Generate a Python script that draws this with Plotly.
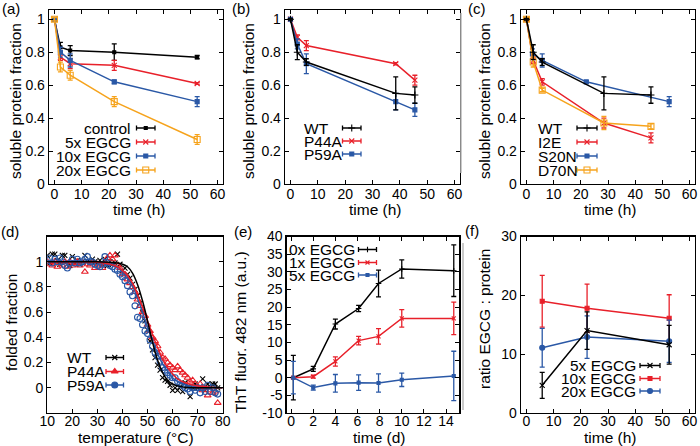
import plotly.graph_objects as go

FONT = "Liberation Sans, Arial, Helvetica, sans-serif"
BLACK = "#000000"
RED = "#e8202a"
BLUE = "#2a58a6"
ORANGE = "#f6a31c"
W, H = 700, 446

# ---------------- data ----------------
# (a) soluble fraction with EGCG
a_time = [0, 2.2, 5.8, 22, 52.5]
a_control = [1.00, 0.83, 0.81, 0.80, 0.77]
a_control_err = [0.005, 0.03, 0.03, 0.05, 0.01]
a_egcg5 = [1.00, 0.77, 0.73, 0.72, 0.61]
a_egcg5_err = [0.005, 0.02, 0.03, 0.03, 0.005]
a_egcg10 = [1.00, 0.80, 0.75, 0.62, 0.50]
a_egcg10_err = [0.005, 0.03, 0.04, 0.01, 0.03]
a_egcg20 = [1.00, 0.71, 0.66, 0.50, 0.27]
a_egcg20_err = [0.01, 0.03, 0.03, 0.03, 0.03]

# (b) mutants
b_time = [0, 2.5, 5.8, 38.5, 45.5]
b_wt = [1.00, 0.80, 0.74, 0.55, 0.54]
b_wt_err = [0.005, 0.045, 0.02, 0.10, 0.05]
b_p44a = [1.00, 0.89, 0.84, 0.73, 0.63]
b_p44a_err = [0.005, 0.015, 0.03, 0.007, 0.03]
b_p59a = [1.00, 0.85, 0.73, 0.50, 0.45]
b_p59a_err = [0.005, 0.03, 0.06, 0.05, 0.04]

# (c) mutants
c_time = [0, 2.5, 5.8, 28.5, 45.8]
c_wt = [1.00, 0.80, 0.74, 0.55, 0.54]
c_wt_err = [0.005, 0.045, 0.02, 0.10, 0.05]
c_i2e = [1.00, 0.75, 0.62, 0.37, 0.28]
c_i2e_err = [0.005, 0.02, 0.02, 0.03, 0.03]
c_s20n_time = [0, 2.2, 5.8, 22, 52.5]
c_s20n = [1.00, 0.79, 0.75, 0.62, 0.50]
c_s20n_err = [0.005, 0.03, 0.04, 0.007, 0.03]
c_d70n = [1.00, 0.74, 0.57, 0.37, 0.35]
c_d70n_err = [0.01, 0.03, 0.01, 0.04, 0.015]

# (d) thermal melts
d_temp = list(range(10, 79))
d_wt = [1.05, 0.99, 1.06, 1.06, 1.01, 0.98, 1.05, 1.05, 1.00, 0.97,
        1.04, 0.99, 1.01, 0.98, 1.00, 1.05, 1.00, 0.99, 1.02, 1.00,
        0.99, 1.01, 0.98, 1.02, 0.97, 1.00, 0.98, 0.99, 1.06, 0.98,
        0.93, 0.95, 0.90, 0.87, 0.82, 0.78, 0.73, 0.67, 0.60, 0.53,
        0.46, 0.37, 0.30, 0.24, 0.18, 0.14, 0.08, 0.06, 0.05, 0.02,
        -0.02, 0.00, -0.02, 0.01, -0.03, 0.04, 0.01, -0.07, 0.00, 0.03,
        0.00, 0.01, 0.07, -0.02, 0.03, 0.00, 0.03, 0.03, 0.00]
d_p44a = [1.00, 0.98, 0.97, 1.00, 0.96, 0.99, 0.97, 1.00, 0.96, 1.00,
          0.97, 0.99, 1.00, 0.97, 0.99, 0.92, 0.98, 0.97, 0.99, 0.95,
          0.98, 0.97, 0.95, 0.99, 1.03, 1.05, 1.02, 1.05, 0.97, 0.95,
          0.90, 0.90, 0.86, 0.83, 0.80, 0.76, 0.70, 0.65, 0.60, 0.57,
          0.50, 0.45, 0.40, 0.37, 0.33, 0.28, 0.24, 0.23, 0.20, 0.18,
          0.16, 0.14, 0.17, 0.14, 0.12, 0.10, 0.08, 0.05, 0.06, 0.03,
          0.01, 0.03, -0.02, 0.00, -0.06, -0.02, -0.04, -0.03, -0.12]
d_p59a = [1.01, 1.03, 0.99, 1.02, 1.00, 1.03, 1.00, 0.97, 0.95, 0.99,
          1.02, 0.99, 1.02, 0.99, 1.00, 1.02, 1.04, 1.00, 1.00, 0.98,
          0.97, 0.96, 0.98, 1.04, 0.99, 0.97, 0.96, 0.94, 0.93, 0.90,
          0.88, 0.85, 0.81, 0.76, 0.73, 0.65, 0.56, 0.55, 0.50, 0.45,
          0.43, 0.38, 0.33, 0.28, 0.25, 0.21, 0.16, 0.14, 0.12, 0.10,
          0.08, 0.08, 0.05, 0.03, 0.02, 0.00, -0.01, -0.03, 0.00, -0.02,
          0.00, -0.04, 0.00, -0.03, 0.02, -0.03, 0.00, -0.04, -0.05]
d_fit_temp = [10, 20, 30, 35, 38, 40, 42, 44, 46, 48, 50, 52, 54, 56, 58, 60, 62, 65, 70, 75, 80]
d_fit_wt = [1.0, 1.0, 1.0, 0.995, 0.99, 0.98, 0.96, 0.91, 0.82, 0.69, 0.53, 0.36, 0.22, 0.12,
            0.06, 0.03, 0.015, 0.005, 0.0, 0.0, 0.0]
d_fit_p44a = [1.0, 1.0, 0.995, 0.98, 0.96, 0.93, 0.89, 0.83, 0.74, 0.64, 0.53, 0.42, 0.32, 0.23,
              0.16, 0.11, 0.07, 0.04, 0.015, 0.005, 0.0]
d_fit_p59a = [1.0, 1.0, 0.995, 0.98, 0.96, 0.93, 0.88, 0.81, 0.71, 0.60, 0.48, 0.37, 0.27, 0.19,
              0.13, 0.08, 0.05, 0.025, 0.008, 0.002, 0.0]

# (e) ThT fluorescence
e_time = [0.2, 2, 4, 6.1, 7.9, 10, 14.7]
e_egcg0 = [0.0, 2.5, 15.2, 19.6, 26.7, 30.8, 30.3]
e_egcg0_err = [6.3, 0.7, 1.4, 0.9, 3.8, 2.6, 7.3]
e_egcg1 = [0.0, 0.3, 4.6, 10.5, 11.7, 16.8, 16.8]
e_egcg1_err = [0.3, 0.4, 1.3, 1.2, 2.2, 2.5, 4.6]
e_egcg5 = [0.0, -2.8, -1.6, -1.4, -1.5, -0.6, 0.5]
e_egcg5_err = [4.6, 0.7, 2.5, 2.2, 2.6, 1.9, 7.0]
e_yticks = [-10, -5, 0, 5, 10, 15, 20, 25, 30, 35, 40]
e_yticklabels = ["-10", "-5", "0", "5", "10", "15", "20", "25", "30", "35", "40"]

# (f) ratio EGCG : protein
f_time = [5.8, 22.3, 52.5]
f_egcg5 = [4.7, 14.0, 11.6]
f_egcg5_err = [2.2, 3.2, 3.3]
f_egcg10 = [19.0, 17.8, 16.1]
f_egcg10_err = [4.4, 4.1, 4.0]
f_egcg20 = [11.1, 12.9, 12.2]
f_egcg20_err = [3.3, 3.6, 3.6]

# ---------------- layout helpers ----------------
# frame boxes in pixels (left, right, top, bottom)
frames = {
    1: (49, 223, 10, 184),
    2: (285, 460, 10, 184),
    3: (521, 695, 10, 184),
    4: (47.3, 222.7, 236.5, 413),
    5: (286.7, 459.3, 236.5, 413),
    6: (521, 695, 236.5, 413),
}
ranges = {
    1: ([-2, 62], [0, 1.056]),
    2: ([-2, 62], [0, 1.056]),
    3: ([-2, 62], [0, 1.056]),
    4: ([10, 80], [-0.2, 1.2]),
    5: ([-0.4, 15.2], [-10, 40]),
    6: ([-2, 62], [0, 30]),
}

fig = go.Figure()


def axn(i):
    return ("x" if i == 1 else f"x{i}", "y" if i == 1 else f"y{i}")


def add_series(i, x, y, err, color, symbol, size, lw=1.5, mode="lines+markers", err_w=2.5):
    xa, ya = axn(i)
    kw = dict(
        x=x, y=y, mode=mode, xaxis=xa, yaxis=ya, showlegend=False, hoverinfo="skip",
        line=dict(color=color, width=lw),
        marker=dict(symbol=symbol, size=size, color=color, line=dict(color=color, width=1.1)),
    )
    if err is not None:
        kw["error_y"] = dict(type="data", array=err, visible=True, color=color,
                             thickness=1.3, width=err_w)
    fig.add_trace(go.Scatter(**kw))


# (a)
add_series(1, a_time, a_control, a_control_err, BLACK, "square", 3)
add_series(1, a_time, a_egcg5, a_egcg5_err, RED, "x-thin", 5)
add_series(1, a_time, a_egcg10, a_egcg10_err, BLUE, "square", 4)
add_series(1, a_time, a_egcg20, a_egcg20_err, ORANGE, "square-open", 6)
# (b)
add_series(2, b_time, b_p44a, b_p44a_err, RED, "x-thin", 5)
add_series(2, b_time, b_p59a, b_p59a_err, BLUE, "square", 4)
add_series(2, b_time, b_wt, b_wt_err, BLACK, "cross-thin", 5)
# (c)
add_series(3, c_s20n_time, c_s20n, c_s20n_err, BLUE, "square", 4)
add_series(3, c_time, c_i2e, c_i2e_err, RED, "x-thin", 5)
add_series(3, c_time, c_d70n, c_d70n_err, ORANGE, "square-open", 6)
add_series(3, c_time, c_wt, c_wt_err, BLACK, "cross-thin", 5)
# (d)
add_series(4, d_temp, d_wt, None, BLACK, "x-thin", 5, mode="markers")
add_series(4, d_temp, d_p44a, None, RED, "triangle-up-open", 6, mode="markers")
add_series(4, d_temp, d_p59a, None, BLUE, "circle-open", 6, mode="markers")
xa, ya = axn(4)
for fy, col in [(d_fit_p59a, BLUE), (d_fit_p44a, RED), (d_fit_wt, BLACK)]:
    fig.add_trace(go.Scatter(x=d_fit_temp, y=fy, mode="lines", line=dict(color=col, width=1.5, shape="spline"),
                             xaxis=xa, yaxis=ya, showlegend=False, hoverinfo="skip"))
# (e)
add_series(5, e_time, e_egcg0, e_egcg0_err, BLACK, "cross-thin", 4)
add_series(5, e_time, e_egcg1, e_egcg1_err, RED, "x-thin", 4)
add_series(5, e_time, e_egcg5, e_egcg5_err, BLUE, "square", 3)
# (f)
add_series(6, f_time, f_egcg10, f_egcg10_err, RED, "square", 4)
add_series(6, f_time, f_egcg20, f_egcg20_err, BLUE, "circle", 5)
add_series(6, f_time, f_egcg5, f_egcg5_err, BLACK, "x-thin", 5)

axis_common = dict(
    showline=True, linecolor="black", linewidth=1.3, mirror="allticks",
    ticks="inside", ticklen=4, tickwidth=1, tickcolor="black",
    showgrid=False, zeroline=False, fixedrange=True, automargin=False,
    tickfont=dict(family=FONT, size=14, color="black"),
)

layout_axes = {}
for i, (l, r, t, b) in frames.items():
    xr, yr = ranges[i]
    xk = "xaxis" if i == 1 else f"xaxis{i}"
    yk = "yaxis" if i == 1 else f"yaxis{i}"
    xa, ya = axn(i)
    layout_axes[xk] = dict(axis_common, domain=[l / W, r / W], range=xr, anchor=ya,
                           ticklabelstandoff=(-3 if i <= 3 else -5))
    layout_axes[yk] = dict(axis_common, domain=[1 - b / H, 1 - t / H], range=yr, anchor=xa)

for i in (1, 2, 3, 6):
    xk = "xaxis" if i == 1 else f"xaxis{i}"
    layout_axes[xk].update(tickmode="array", tickvals=[0, 10, 20, 30, 40, 50, 60])
for i in (1, 2, 3):
    yk = "yaxis" if i == 1 else f"yaxis{i}"
    layout_axes[yk].update(tickmode="array", tickvals=[0, 0.2, 0.4, 0.6, 0.8, 1])
layout_axes["xaxis4"].update(tickmode="array", tickvals=[10, 20, 30, 40, 50, 60, 70, 80])
layout_axes["yaxis4"].update(tickmode="array", tickvals=[0, 0.2, 0.4, 0.6, 0.8, 1])
layout_axes["xaxis5"].update(tickmode="array", tickvals=[0, 2, 4, 6, 8, 10, 12, 14])
layout_axes["yaxis5"].update(tickmode="array", tickvals=e_yticks, ticktext=e_yticklabels)
layout_axes["yaxis6"].update(tickmode="array", tickvals=[0, 10, 20, 30])

annotations = []
shapes = []


def text(x, y, s, size=15.5, angle=0, xanchor="center", yanchor="middle"):
    annotations.append(dict(x=x / W, y=1 - y / H, xref="paper", yref="paper", text=s,
                            showarrow=False, textangle=angle, xanchor=xanchor, yanchor=yanchor,
                            font=dict(family=FONT, size=size, color="black")))


# panel labels
for s, x, y in [("(a)", 11, 9), ("(b)", 241, 9), ("(c)", 477, 9),
                ("(d)", 10, 232), ("(e)", 243, 232), ("(f)", 472, 230)]:
    text(x, y, s, size=15)
# axis titles
for s, x, y in [("soluble protein fraction", 15, 101), ("soluble protein fraction", 248, 101),
                ("soluble protein fraction", 484, 101), ("folded fraction", 11, 323),
                ("ThT fluor. 482 nm (a.u.)", 240, 332), ("ratio EGCG : protein", 484, 319)]:
    text(x, y, s, angle=-90)
for s, x, y in [("time (h)", 139, 209), ("time (h)", 375, 209), ("time (h)", 610, 209),
                ("temperature (°C)", 136, 437), ("time (d)", 379, 437), ("time (h)", 610, 437)]:
    text(x, y, s)

# gray panel separators
shapes.append(dict(type="line", xref="paper", yref="paper", x0=461 / W, x1=461 / W,
                   y0=1 - 13 / H, y1=1 - 173 / H, line=dict(color="#b8b8b8", width=1.5)))
shapes.append(dict(type="line", xref="paper", yref="paper", x0=463 / W, x1=463 / W,
                   y0=1 - 243 / H, y1=1 - 410 / H, line=dict(color="#b8b8b8", width=1.5)))


def legend(i, rows_px, align, text_px, s0_px, s1_px, entries):
    l, r, t, b = frames[i]
    w, h = r - l, b - t
    xr, yr = ranges[i]
    xa, ya = axn(i)
    for row, (label, color, symbol, size) in zip(rows_px, entries):
        fy = (b - row) / h
        annotations.append(dict(x=(text_px - l) / w, y=fy, xref=f"{xa} domain", yref=f"{ya} domain",
                                text=label, showarrow=False, xanchor=align, yanchor="middle",
                                font=dict(family=FONT, size=15.5, color="black")))
        f0, f1 = (s0_px - l) / w, (s1_px - l) / w
        shapes.append(dict(type="line", xref=f"{xa} domain", yref=f"{ya} domain",
                           x0=f0, x1=f1, y0=fy, y1=fy, line=dict(color=color, width=1.5)))
        cap = 2.5 / h
        for fx in (f0, f1):
            shapes.append(dict(type="line", xref=f"{xa} domain", yref=f"{ya} domain",
                               x0=fx, x1=fx, y0=fy - cap, y1=fy + cap, line=dict(color=color, width=1.3)))
        mx = xr[0] + (f0 + f1) / 2 * (xr[1] - xr[0])
        my = yr[0] + fy * (yr[1] - yr[0])
        fig.add_trace(go.Scatter(x=[mx], y=[my], mode="markers", xaxis=xa, yaxis=ya, showlegend=False,
                                 hoverinfo="skip", cliponaxis=False,
                                 marker=dict(symbol=symbol, size=size, color=color,
                                             line=dict(color=color, width=1.1))))


legend(1, [128, 142, 156, 170], "right", 133, 136.5, 155,
       [("control", BLACK, "square", 3), ("5x EGCG", RED, "x-thin", 5),
        ("10x EGCG", BLUE, "square", 4), ("20x EGCG", ORANGE, "square-open", 6)])
legend(2, [128, 141, 154], "left", 301.5, 342.5, 361,
       [("WT", BLACK, "cross-thin", 5), ("P44A", RED, "x-thin", 5), ("P59A", BLUE, "square", 4)])
legend(3, [128, 142, 156, 170], "left", 536, 577, 597,
       [("WT", BLACK, "cross-thin", 5), ("I2E", RED, "x-thin", 5),
        ("S20N", BLUE, "square", 4), ("D70N", ORANGE, "square-open", 6)])
legend(4, [357.5, 371.5, 385], "left", 65, 106, 123.5,
       [("WT", BLACK, "x-thin", 5), ("P44A", RED, "triangle-up", 6), ("P59A", BLUE, "circle", 6)])
legend(5, [249.5, 262.5, 275], "right", 356.5, 358.5, 376.5,
       [("0x EGCG", BLACK, "cross-thin", 4), ("1x EGCG", RED, "x-thin", 4), ("5x EGCG", BLUE, "square", 3)])
legend(6, [365.5, 378.5, 391], "right", 638, 640, 660,
       [("5x EGCG", BLACK, "x-thin", 5), ("10x EGCG", RED, "square", 4), ("20x EGCG", BLUE, "circle", 5)])

fig.update_layout(
    width=W, height=H, margin=dict(l=0, r=0, t=0, b=0, pad=0, autoexpand=False),
    paper_bgcolor="white", plot_bgcolor="white",
    font=dict(family=FONT, color="black"),
    annotations=annotations, shapes=shapes, showlegend=False,
    **layout_axes,
)
fig.write_html("out.html", config={"displayModeBar": False, "staticPlot": True},
               post_script="document.body.style.margin='0px';document.body.style.padding='0px';")
